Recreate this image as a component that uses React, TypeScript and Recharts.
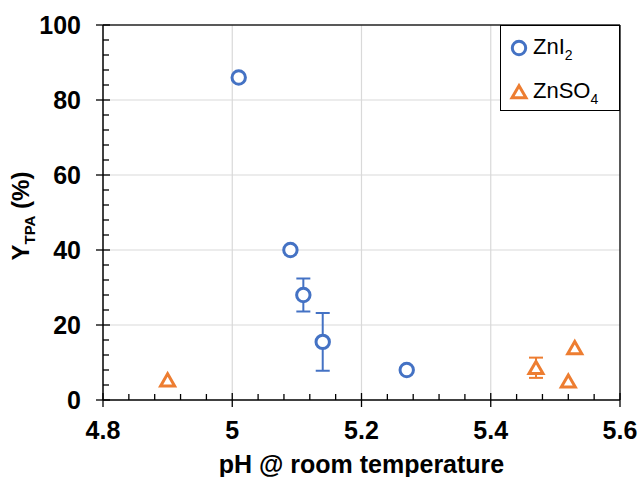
import React from 'react';
import {
  ScatterChart,
  Scatter,
  XAxis,
  YAxis,
  CartesianGrid,
  ErrorBar,
  ReferenceLine,
  Legend,
  Label,
} from 'recharts';

const FONT = '"Liberation Sans", Arial, Helvetica, sans-serif';
const BLUE = '#4472C4';
const ORANGE = '#ED7D31';

// Tick labels
const X_MAJOR = [4.8, 5.0, 5.2, 5.4, 5.6];
const X_MAJOR_LABELS = ['4.8', '5', '5.2', '5.4', '5.6'];
const Y_MAJOR = [0, 20, 40, 60, 80, 100];
const Y_MAJOR_LABELS = ['0', '20', '40', '60', '80', '100'];
const X_GRID = [5.0, 5.2, 5.4];
const Y_GRID = [20, 40, 60, 80];

// Series: ZnI2
const ZNI2_PH = [5.01, 5.09, 5.11, 5.14, 5.27];
const ZNI2_Y = [86, 40, 28, 15.5, 8];
const ZNI2_ERR: (number | null)[] = [null, null, 4.4, 7.7, null];

// Series: ZnSO4
const ZNSO4_PH = [4.9, 5.47, 5.52, 5.53];
const ZNSO4_Y = [5.3, 8.6, 5.0, 13.9];
const ZNSO4_ERR: (number | null)[] = [null, 2.7, null, null];

const X_TICKS = Array.from({ length: 21 }, (_, i) => Math.round((4.8 + 0.04 * i) * 100) / 100);
const Y_TICKS = Array.from({ length: 26 }, (_, i) => i * 4);

const zni2Data = ZNI2_PH.map((x, i) => ({ x, y: ZNI2_Y[i], err: ZNI2_ERR[i] }));
const znso4Data = ZNSO4_PH.map((x, i) => ({ x, y: ZNSO4_Y[i], err: ZNSO4_ERR[i] }));

const findIdx = (arr: number[], v: number) => arr.findIndex((m) => Math.abs(m - v) < 1e-6);

const XTick = (props: any) => {
  const { x, y, payload } = props;
  const idx = findIdx(X_MAJOR, payload.value);
  const major = idx >= 0;
  return (
    <g>
      <line x1={x} x2={x} y1={major ? y - 7 : y - 6} y2={major ? y + 7 : y} stroke="#000" strokeWidth={1.3} />
      {major && (
        <text x={x} y={y + 39} textAnchor="middle" fontFamily={FONT} fontSize={25} fontWeight="bold" fill="#000">
          {X_MAJOR_LABELS[idx]}
        </text>
      )}
    </g>
  );
};

const YTick = (props: any) => {
  const { x, y, payload } = props;
  const idx = findIdx(Y_MAJOR, payload.value);
  const major = idx >= 0;
  return (
    <g>
      <line x1={major ? x - 7 : x} x2={major ? x + 7 : x + 6} y1={y} y2={y} stroke="#000" strokeWidth={1.3} />
      {major && (
        <text x={x - 22} y={y} dy="0.355em" textAnchor="end" fontFamily={FONT} fontSize={25} fontWeight="bold" fill="#000">
          {Y_MAJOR_LABELS[idx]}
        </text>
      )}
    </g>
  );
};

const CircleShape = (props: any) => {
  const { cx, cy } = props;
  return <circle cx={cx} cy={cy} r={6.7} fill="#fff" stroke={BLUE} strokeWidth={3} />;
};

const TriangleShape = (props: any) => {
  const { cx, cy } = props;
  const pts = `${cx},${cy - 6.3} ${cx - 7},${cy + 5.8} ${cx + 7},${cy + 5.8}`;
  return <polygon points={pts} fill="#fff" stroke={ORANGE} strokeWidth={3} strokeLinejoin="miter" />;
};

const LegendBox = () => (
  <div
    style={{
      width: 120,
      height: 86,
      border: '1.5px solid #000',
      boxSizing: 'border-box',
      background: '#fff',
      fontFamily: FONT,
      fontSize: 22,
      color: '#000',
      position: 'relative',
    }}
  >
    <div style={{ position: 'absolute', left: 8, top: 10, height: 24, display: 'flex', alignItems: 'center' }}>
      <svg width={20} height={20}>
        <circle cx={10} cy={10} r={6.7} fill="#fff" stroke={BLUE} strokeWidth={3} />
      </svg>
      <span style={{ marginLeft: 4, lineHeight: '24px', whiteSpace: 'nowrap' }}>
        ZnI<span style={{ fontSize: 14, position: 'relative', top: 6 }}>2</span>
      </span>
    </div>
    <div style={{ position: 'absolute', left: 8, top: 54, height: 24, display: 'flex', alignItems: 'center' }}>
      <svg width={20} height={20}>
        <polygon points="10,3.7 3,15.8 17,15.8" fill="#fff" stroke={ORANGE} strokeWidth={3} />
      </svg>
      <span style={{ marginLeft: 4, lineHeight: '24px', whiteSpace: 'nowrap' }}>
        ZnSO<span style={{ fontSize: 14, position: 'relative', top: 6 }}>4</span>
      </span>
    </div>
  </div>
);

const XTitle = (props: any) => {
  const { viewBox } = props;
  return (
    <text
      x={viewBox.x + viewBox.width / 2}
      y={viewBox.y + 73}
      textAnchor="middle"
      fontFamily={FONT}
      fontSize={25}
      fontWeight="bold"
      fill="#000"
    >
      pH @ room temperature
    </text>
  );
};

const YTitle = (props: any) => {
  const { viewBox } = props;
  const cx = viewBox.x + viewBox.width - 74.5;
  const cy = viewBox.y + viewBox.height / 2 + 3.5;
  return (
    <text
      x={cx}
      y={cy}
      transform={`rotate(-90, ${cx}, ${cy})`}
      textAnchor="middle"
      fontFamily={FONT}
      fontSize={24}
      fontWeight="bold"
      fill="#000"
    >
      Y
      <tspan fontSize={15} dy={6}>TPA</tspan>
      <tspan dy={-6}> (%)</tspan>
    </text>
  );
};

export default function App() {
  return (
    <div style={{ position: 'absolute', left: 0, top: 0, width: 640, height: 477, background: '#fff' }}>
      <ScatterChart width={640} height={477} margin={{ top: 25, right: 20, bottom: 17, left: 13 }}>
        <CartesianGrid
          stroke="#d9d9d9"
          strokeWidth={1.2}
          horizontalValues={Y_GRID}
          verticalValues={X_GRID}
        />
        <XAxis
          type="number"
          dataKey="x"
          domain={[4.8, 5.6]}
          ticks={X_TICKS}
          interval={0}
          tick={<XTick />}
          tickLine={false}
          tickSize={0}
          tickMargin={0}
          height={60}
          axisLine={{ stroke: '#000', strokeWidth: 1.5 }}
          allowDataOverflow
        >
          <Label content={<XTitle />} />
        </XAxis>
        <YAxis
          type="number"
          dataKey="y"
          domain={[0, 100]}
          ticks={Y_TICKS}
          interval={0}
          tick={<YTick />}
          tickLine={false}
          tickSize={0}
          tickMargin={0}
          width={90}
          axisLine={{ stroke: '#000', strokeWidth: 1.5 }}
          allowDataOverflow
        >
          <Label content={<YTitle />} />
        </YAxis>
        <ReferenceLine y={100} stroke="#222" strokeWidth={1.5} ifOverflow="extendDomain" />
        <ReferenceLine x={5.6} stroke="#222" strokeWidth={1.5} ifOverflow="extendDomain" />
        <Legend
          layout="vertical"
          align="center"
          verticalAlign="middle"
          content={<LegendBox />}
          wrapperStyle={{ left: 500, top: 25, width: 120, height: 86 }}
        />
        <Scatter name="ZnI2" data={zni2Data} shape={<CircleShape />} fill={BLUE} isAnimationActive={false}>
          <ErrorBar dataKey="err" direction="y" width={7} stroke={BLUE} strokeWidth={2} />
        </Scatter>
        <Scatter name="ZnSO4" data={znso4Data} shape={<TriangleShape />} fill={ORANGE} isAnimationActive={false}>
          <ErrorBar dataKey="err" direction="y" width={7} stroke={ORANGE} strokeWidth={2} />
        </Scatter>
      </ScatterChart>
    </div>
  );
}
